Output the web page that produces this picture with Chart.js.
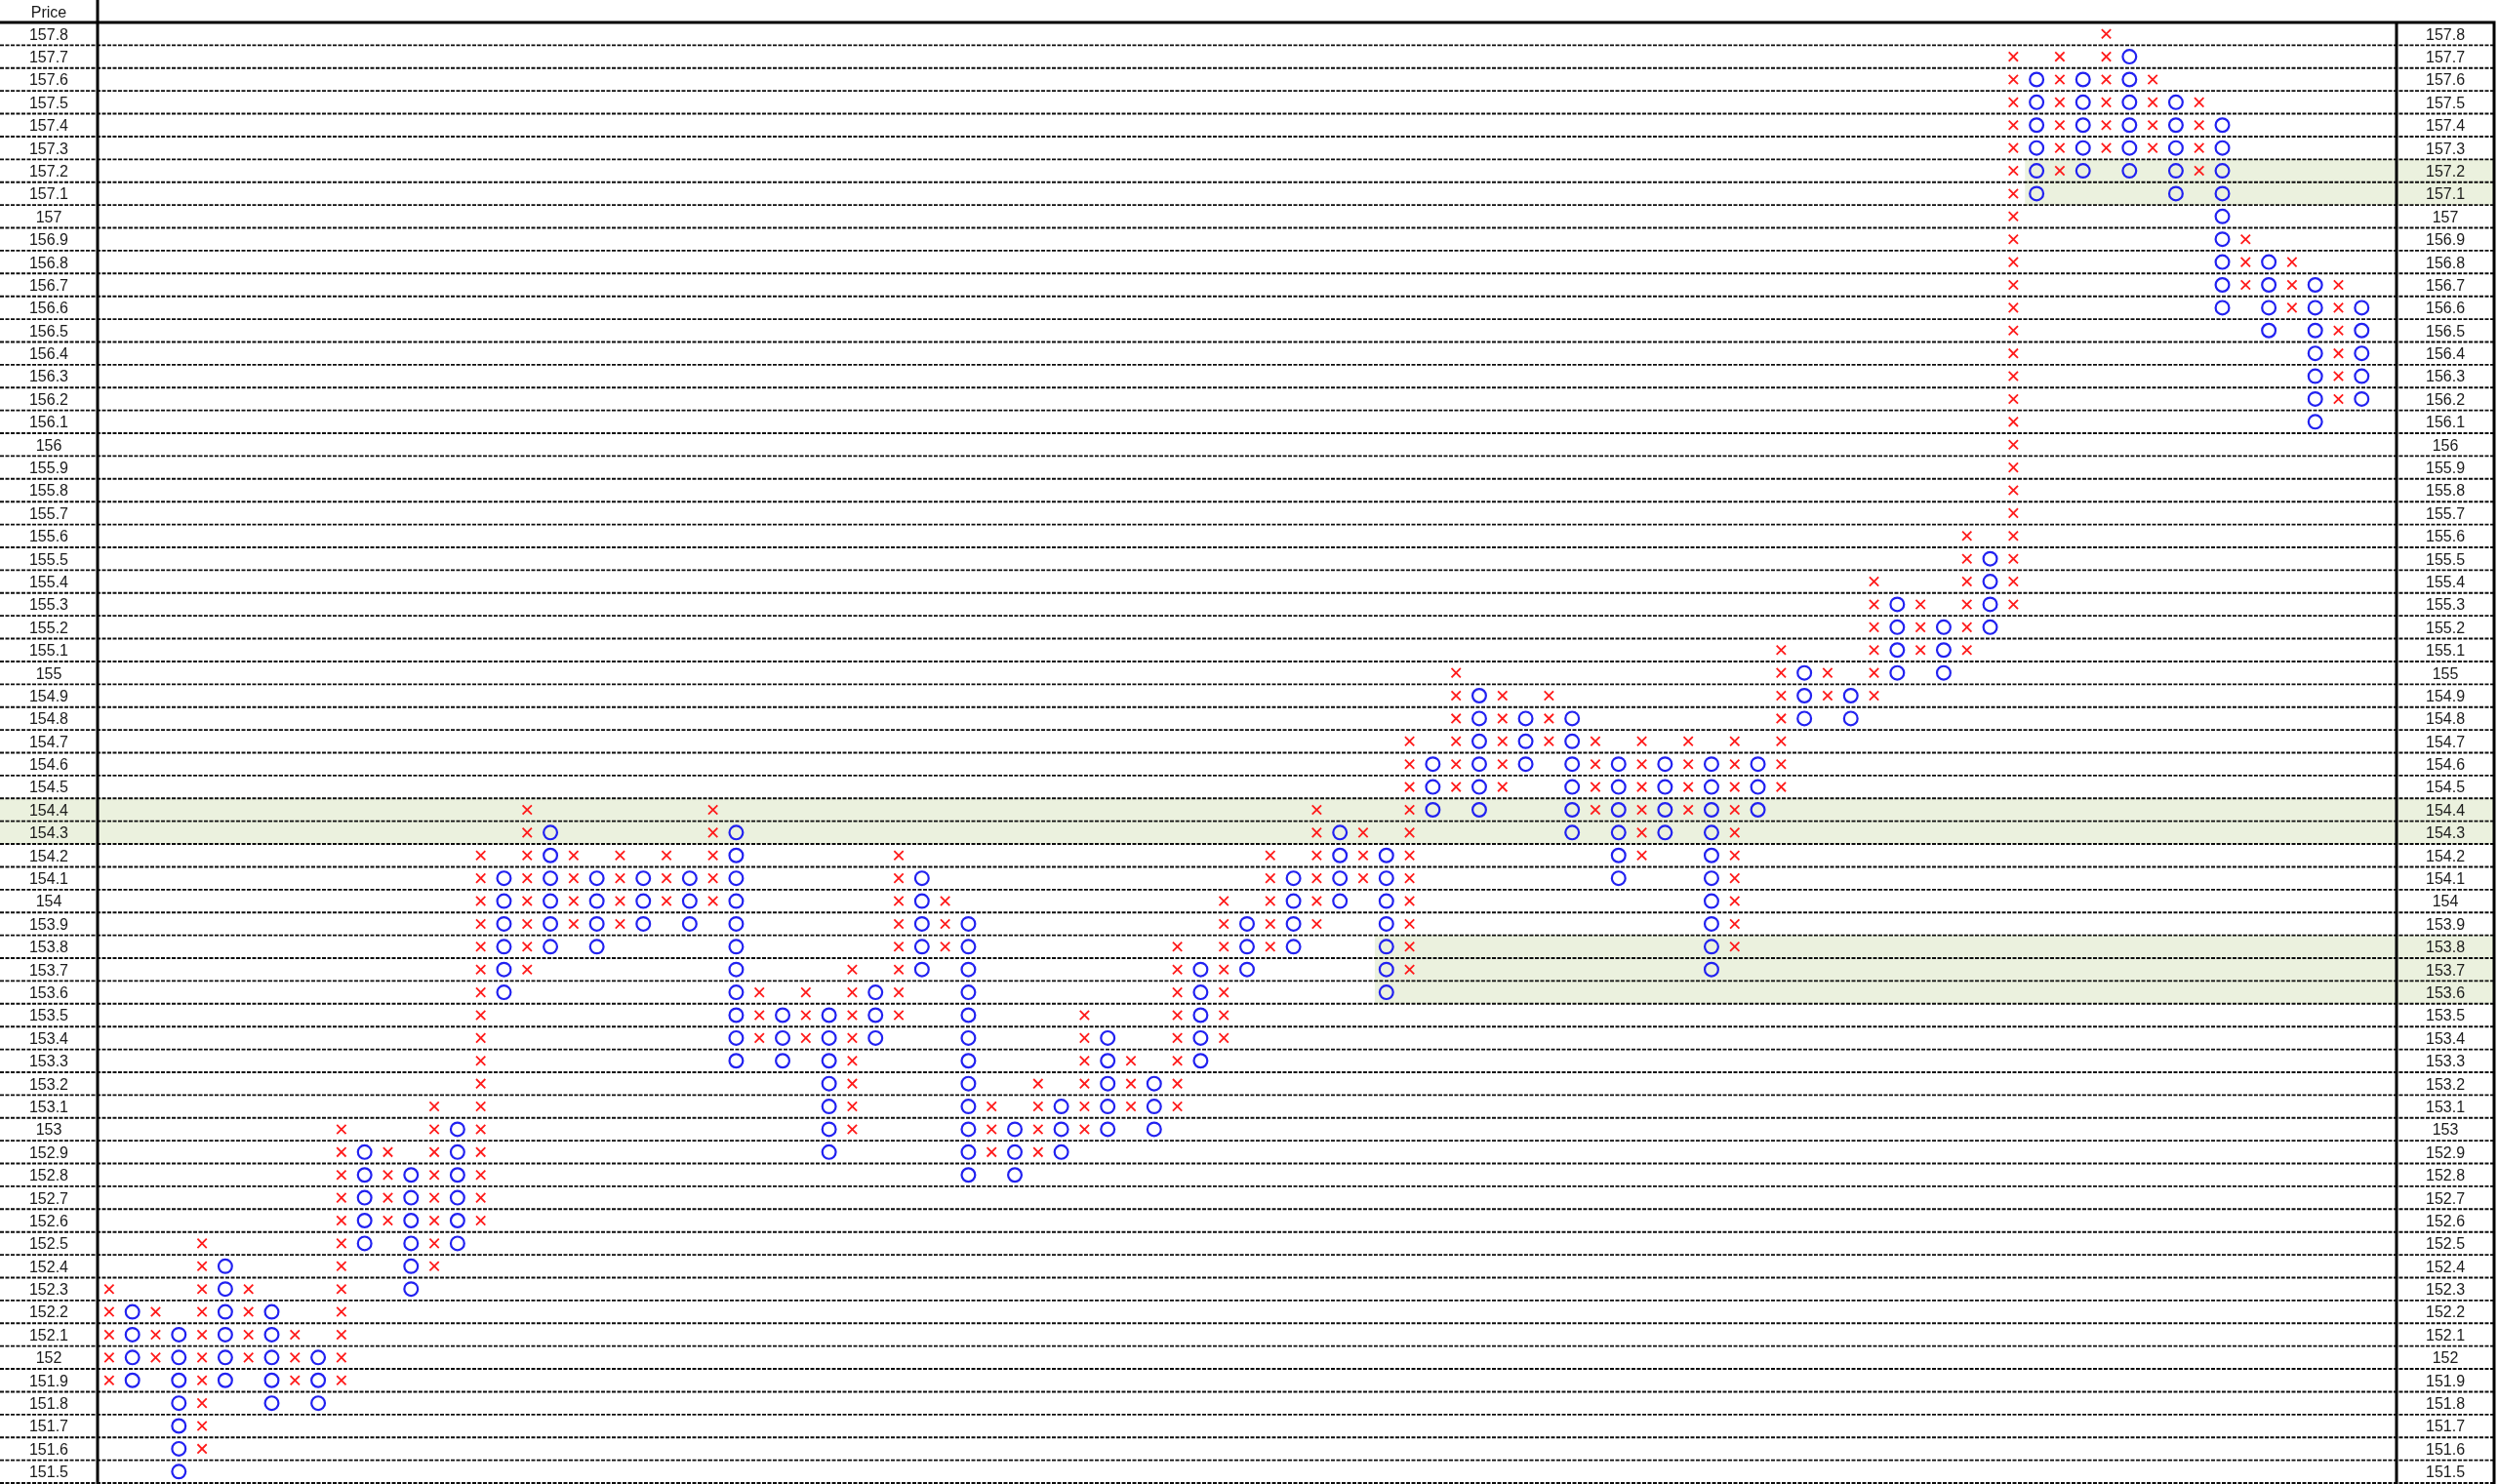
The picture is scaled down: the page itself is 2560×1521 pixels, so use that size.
<!DOCTYPE html>
<html>
<head>
<meta charset="utf-8">
<script src="https://cdn.jsdelivr.net/npm/chart.js@4.4.1/dist/chart.umd.min.js"></script>
<style>
html,body{margin:0;padding:0;background:#fff;overflow:hidden}
#wrap{width:2560px;height:1521px;position:relative}
canvas{display:block}
</style>
</head>
<body>
<div id="wrap"><canvas id="c" width="2560" height="1521"></canvas></div>
<script>
// ---- Data (Point & Figure columns, box size 0.1) ----
const colTypes = [
  "X","O","X","O","X","O","X","O","X","O",
  "X","O","X","O","X","O","X","O","X","O",
  "X","O","X","O","X","O","X","O","X","O",
  "X","O","X","O","X","O","X","O","X","O",
  "X","O","X","O","X","O","X","O","X","O",
  "X","O","X","O","X","O","X","O","X","O",
  "X","O","X","O","X","O","X","O","X","O",
  "X","O","X","O","X","O","X","O","X","O",
  "X","O","X","O","X","O","X","O","X","O",
  "X","O","X","O","X","O","X","O"
];
const colLow = [
  151.9,151.9,152.0,151.5,151.6,151.9,152.0,151.8,151.9,151.8,
  151.9,152.5,152.6,152.3,152.4,152.5,152.6,153.6,153.7,153.8,
  153.9,153.8,153.9,153.9,154.0,153.9,154.0,153.3,153.4,153.3,
  153.4,152.9,153.0,153.4,153.5,153.7,153.8,152.8,152.9,152.8,
  152.9,152.9,153.0,153.0,153.1,153.0,153.1,153.3,153.4,153.7,
  153.8,153.8,153.9,154.0,154.1,153.6,153.7,154.4,154.5,154.4,
  154.5,154.6,154.7,154.3,154.4,154.1,154.2,154.3,154.4,153.7,
  153.8,154.4,154.5,154.8,154.9,154.8,154.9,155.0,155.1,155.0,
  155.1,155.2,155.3,157.1,157.2,157.2,157.3,157.2,157.3,157.1,
  157.2,156.6,156.7,156.5,156.6,156.1,156.2,156.2
];
const colHigh = [
  152.3,152.2,152.2,152.1,152.5,152.4,152.3,152.2,152.1,152.0,
  153.0,152.9,152.9,152.8,153.1,153.0,154.2,154.1,154.4,154.3,
  154.2,154.1,154.2,154.1,154.2,154.1,154.4,154.3,153.6,153.5,
  153.6,153.5,153.7,153.6,154.2,154.1,154.0,153.9,153.1,153.0,
  153.2,153.1,153.5,153.4,153.3,153.2,153.8,153.7,154.0,153.9,
  154.2,154.1,154.4,154.3,154.3,154.2,154.7,154.6,155.0,154.9,
  154.9,154.8,154.9,154.8,154.7,154.6,154.7,154.6,154.7,154.6,
  154.7,154.6,155.1,155.0,155.0,154.9,155.4,155.3,155.3,155.2,
  155.6,155.5,157.7,157.6,157.7,157.6,157.8,157.7,157.6,157.5,
  157.5,157.4,156.9,156.8,156.8,156.7,156.7,156.6
];
const priceLabels = [
  157.8,157.7,157.6,157.5,157.4,157.3,157.2,157.1,157.0,156.9,
  156.8,156.7,156.6,156.5,156.4,156.3,156.2,156.1,156.0,155.9,
  155.8,155.7,155.6,155.5,155.4,155.3,155.2,155.1,155.0,154.9,
  154.8,154.7,154.6,154.5,154.4,154.3,154.2,154.1,154.0,153.9,
  153.8,153.7,153.6,153.5,153.4,153.3,153.2,153.1,153.0,152.9,
  152.8,152.7,152.6,152.5,152.4,152.3,152.2,152.1,152.0,151.9,
  151.8,151.7,151.6,151.5
];
// highlighted zones: [low, high, first column (0 = from left edge)]
const bandLow  = [154.3, 153.6, 157.1];
const bandHigh = [154.4, 153.8, 157.2];
const bandFromCol = [0, 56, 84];

// ---- Build points from columns ----
const xPts = [], oPts = [];
for (let i = 0; i < colLow.length; i++) {
  const lo = Math.round(colLow[i] * 10), hi = Math.round(colHigh[i] * 10);
  for (let b = lo; b <= hi; b++) {
    const pt = { x: i + 1, y: b / 10 };
    (colTypes[i] === "X" ? xPts : oPts).push(pt);
  }
}

const BOX = 0.1;
const AREA_TOP = 23, AREA_BOTTOM = 1520;
const fmt = v => String(Math.round(v * 10) / 10);

const decor = {
  id: "pfDecor",
  afterLayout(chart) {
    const ca = chart.chartArea;
    ca.top = AREA_TOP; ca.bottom = AREA_BOTTOM; ca.height = AREA_BOTTOM - AREA_TOP;
    for (const id of ["y", "yR"]) {
      const s = chart.scales[id];
      s.top = AREA_TOP; s.bottom = AREA_BOTTOM; s.height = AREA_BOTTOM - AREA_TOP;
      s.configure();
    }
    const sx = chart.scales.x;
    sx.top = AREA_TOP; sx.bottom = AREA_BOTTOM;
  },
  beforeDraw(chart) {
    const { ctx } = chart;
    const x = chart.scales.x, y = chart.scales.y, yR = chart.scales.yR;
    const rightEdge = yR.right;
    ctx.save();
    ctx.fillStyle = "#ffffff";
    ctx.fillRect(0, 0, chart.width, chart.height);
    ctx.fillStyle = "#EBF1DE";
    for (let i = 0; i < bandLow.length; i++) {
      const y1 = y.getPixelForValue(bandHigh[i] + BOX / 2);
      const y2 = y.getPixelForValue(bandLow[i] - BOX / 2);
      const x1 = bandFromCol[i] ? x.getPixelForValue(bandFromCol[i] - 0.5) : 0;
      ctx.fillRect(x1, y1, rightEdge - x1, y2 - y1);
    }
    ctx.strokeStyle = "#0d0d0d";
    ctx.lineWidth = 1.9;
    ctx.setLineDash([4, 1.5]);
    for (const p of priceLabels) {
      const py = y.getPixelForValue(p - BOX / 2);
      ctx.beginPath();
      ctx.moveTo(0, py);
      ctx.lineTo(rightEdge, py);
      ctx.stroke();
    }
    ctx.restore();
  },
  afterDraw(chart) {
    const { ctx } = chart;
    const y = chart.scales.y, yR = chart.scales.yR;
    const top = chart.chartArea.top;
    ctx.save();
    ctx.strokeStyle = "#000";
    ctx.lineWidth = 3;
    ctx.setLineDash([]);
    ctx.beginPath();
    ctx.moveTo(0, top); ctx.lineTo(yR.right + 1.5, top);
    ctx.moveTo(y.right, 0); ctx.lineTo(y.right, chart.height);
    ctx.moveTo(yR.left, top); ctx.lineTo(yR.left, chart.height);
    ctx.moveTo(yR.right, top); ctx.lineTo(yR.right, chart.height);
    ctx.stroke();
    ctx.fillStyle = "#1a1a1a";
    ctx.font = "16px 'Liberation Sans', Arial, sans-serif";
    ctx.textAlign = "center";
    ctx.textBaseline = "middle";
    ctx.fillText("Price", (y.left + y.right) / 2, top / 2 + 2);
    ctx.restore();
  }
};

const yAxisCommon = {
  type: "linear",
  min: 151.45,
  max: 157.85,
  bounds: "data",
  grid: { display: false, drawTicks: false },
  border: { display: false },
  ticks: {
    autoSkip: false,
    padding: 30,
    labelOffset: 1.5,
    crossAlign: "center",
    color: "#1a1a1a",
    font: { family: "'Liberation Sans', Arial, sans-serif", size: 16 },
    callback: v => fmt(v)
  },
  afterBuildTicks: s => { s.ticks = priceLabels.map(v => ({ value: v })); },
  afterFit: s => { s.width = 100; s.paddingTop = 0; s.paddingBottom = 0; }
};

new Chart(document.getElementById("c"), {
  type: "scatter",
  data: {
    datasets: [
      {
        label: "X",
        data: xPts,
        pointStyle: "crossRot",
        pointRadius: 6.6,
        borderColor: "#ff1a1a",
        backgroundColor: "#ff1a1a",
        pointBorderWidth: 1.8,
        showLine: false
      },
      {
        label: "O",
        data: oPts,
        pointStyle: "circle",
        pointRadius: 6.9,
        borderColor: "#2121f0",
        backgroundColor: "rgba(0,0,0,0)",
        pointBorderWidth: 2.2,
        showLine: false
      }
    ]
  },
  options: {
    responsive: false,
    animation: false,
    events: [],
    devicePixelRatio: 1,
    layout: { padding: { top: 23, bottom: 1, left: 0, right: 4 } },
    plugins: { legend: { display: false }, tooltip: { enabled: false } },
    scales: {
      x: { type: "linear", min: 0.5, max: 99.5, display: false },
      y: Object.assign({}, yAxisCommon, { position: "left" }),
      yR: Object.assign({}, yAxisCommon, { position: "right" })
    }
  },
  plugins: [decor]
});
</script>
</body>
</html>
